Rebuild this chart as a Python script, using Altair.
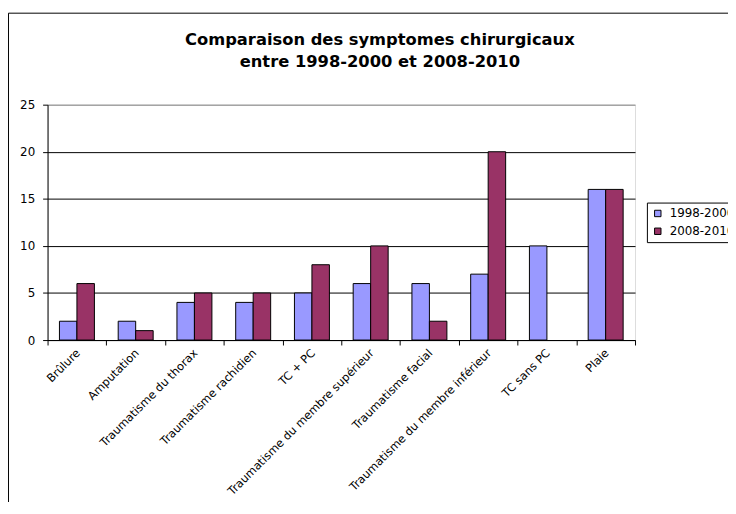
import altair as alt
import pandas as pd

categories = ["Brûlure", "Amputation", "Traumatisme du thorax", "Traumatisme rachidien",
              "TC + PC", "Traumatisme du membre supérieur", "Traumatisme facial",
              "Traumatisme du membre inférieur", "TC sans PC", "Plaie"]
series = ["1998-2000", "2008-2010"]
values_1998_2000 = [2, 2, 4, 4, 5, 6, 6, 7, 10, 16]
values_2008_2010 = [6, 1, 5, 5, 8, 10, 2, 20, 0, 16]
colors = ["#9999FF", "#993366"]
y_ticks = [0, 5, 10, 15, 20, 25]
title_lines = ["Comparaison des symptomes chirurgicaux", "entre 1998-2000 et 2008-2010"]

rows = []
for c, a, b in zip(categories, values_1998_2000, values_2008_2010):
    rows.append({"cat": c, "series": series[0], "value": a})
    rows.append({"cat": c, "series": series[1], "value": b})
df = pd.DataFrame(rows)

FONT = "DejaVu Sans"

bars = alt.Chart(df).transform_filter("datum.value > 0").mark_bar(
    stroke="black", strokeWidth=1).encode(
    x=alt.X("cat:N", sort=categories,
            scale=alt.Scale(domain=categories, paddingInner=0, paddingOuter=0),
            axis=alt.Axis(title=None, labelAngle=-45, tickBand="extent", tickSize=5,
                          tickColor="black", domainColor="black", labelColor="black",
                          labelFont=FONT, labelFontSize=11.5, labelPadding=2, labelOffset=-3,
                          labelLimit=400, labelOverlap=False)),
    xOffset=alt.XOffset("series:N", sort=series,
                        scale=alt.Scale(domain=series, paddingInner=0, paddingOuter=0.68)),
    y=alt.Y("value:Q", scale=alt.Scale(domain=[0, 25], nice=False),
            axis=alt.Axis(title=None, values=y_ticks, grid=True,
                          gridColor={"condition": {"test": "datum.value === 25", "value": "#808080"},
                                     "value": "black"},
                          tickSize=5, tickColor="black", domainColor="black",
                          labelColor="black", labelFont=FONT, labelFontSize=12,
                          labelPadding=8)),
    color=alt.Color("series:N", sort=series,
                    scale=alt.Scale(domain=series, range=colors),
                    legend=alt.Legend(title=None, orient="none", legendX=606, legendY=99,
                                      strokeColor="black", fillColor="white", padding=5,
                                      symbolType="square", symbolSize=42,
                                      symbolStrokeColor="black", symbolStrokeWidth=1,
                                      labelFont=FONT, labelFontSize=12, labelColor="black",
                                      rowPadding=6, labelOffset=6)),
)

dummy = pd.DataFrame({"a": [0]})
border_left = alt.Chart(dummy).mark_rule(color="black", strokeWidth=1).encode(
    x=alt.value(-39.5), y=alt.value(-92.5), y2=alt.value(420))
border_top = alt.Chart(dummy).mark_rule(color="black", strokeWidth=1).encode(
    x=alt.value(-39.5), x2=alt.value(700), y=alt.value(-92.5))

title1 = alt.Chart(dummy).mark_text(font=FONT, fontSize=16.5, fontWeight="bold",
                                    color="black", align="center", baseline="alphabetic").encode(
    x=alt.value(336), y=alt.value(-60), text=alt.value(title_lines[0]))
title2 = alt.Chart(dummy).mark_text(font=FONT, fontSize=16.5, fontWeight="bold",
                                    color="black", align="center", baseline="alphabetic").encode(
    x=alt.value(336), y=alt.value(-38), text=alt.value(title_lines[1]))

chart = alt.layer(bars, border_left, border_top, title1, title2).properties(
    width=594, height=238,
    padding={"left": 40, "top": 95, "right": 94, "bottom": 161},
    autosize=alt.AutoSizeParams(type="none"),
).configure_view(fill="#C0C0C0", stroke="#808080").configure(background="white")

chart.save("out.html", embed_options={"renderer": "svg", "actions": False})
